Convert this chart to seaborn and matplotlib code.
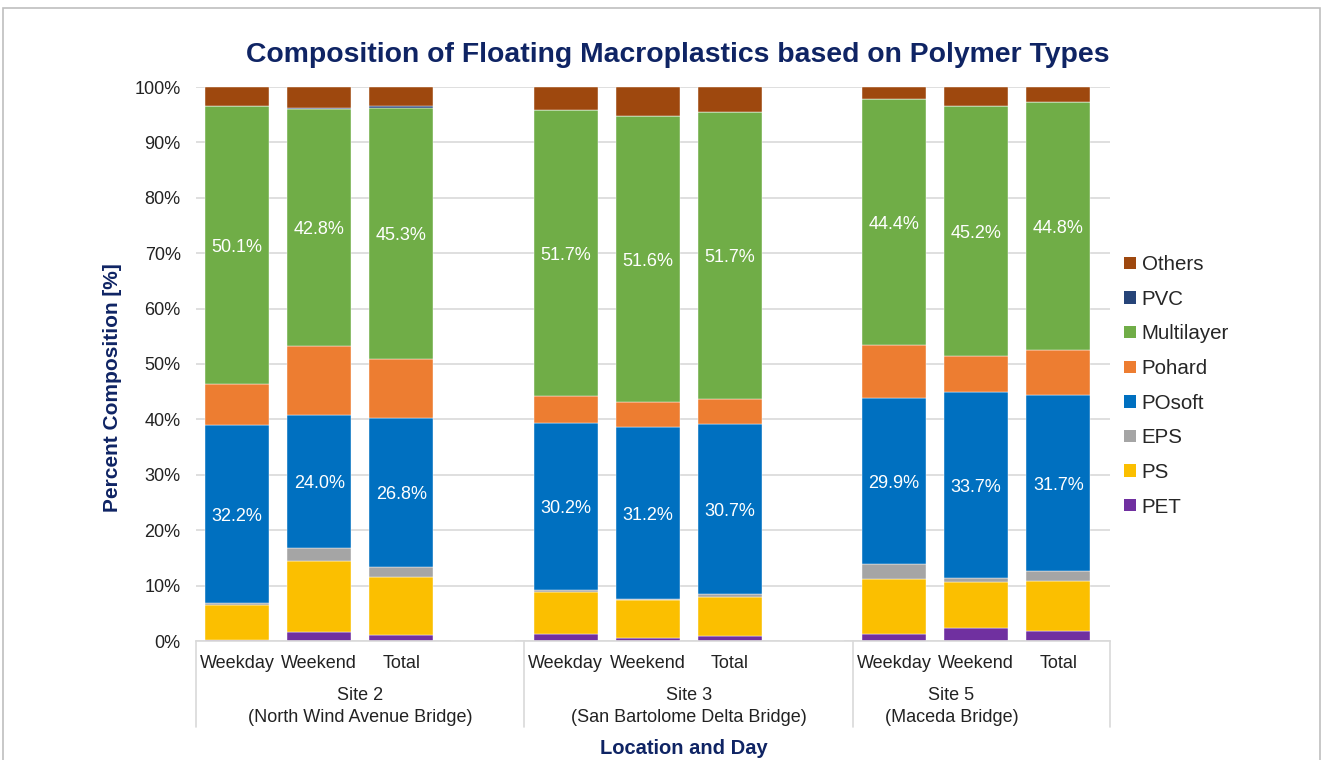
import numpy as np
import pandas as pd
import matplotlib
matplotlib.use("Agg")
import matplotlib.pyplot as plt
import seaborn as sns
from matplotlib.patches import Rectangle, Patch
import matplotlib.transforms as mtransforms

# ---------------- data ----------------
days = ["Weekday", "Weekend", "Total"]
sites = ["Site 2", "Site 3", "Site 5"]
site_names = ["(North Wind Avenue Bridge)", "(San Bartolome Delta Bridge)", "(Maceda Bridge)"]

# order of bars: Site2 Wd/We/T, Site3 Wd/We/T, Site5 Wd/We/T
PET        = [0.1, 1.6, 1.1, 1.3, 0.6, 0.9, 1.3, 2.3, 1.8]
PS         = [6.4, 12.8, 10.5, 7.5, 6.8, 7.1, 9.9, 8.3, 9.1]
EPS        = [0.3, 2.4, 1.8, 0.4, 0.1, 0.5, 2.7, 0.7, 1.8]
POsoft     = [32.2, 24.0, 26.8, 30.2, 31.2, 30.7, 29.9, 33.7, 31.7]
Pohard     = [7.4, 12.4, 10.7, 4.8, 4.4, 4.5, 9.6, 6.4, 8.1]
Multilayer = [50.1, 42.8, 45.3, 51.7, 51.6, 51.7, 44.4, 45.2, 44.8]
PVC        = [0.0, 0.2, 0.3, 0.0, 0.0, 0.0, 0.0, 0.0, 0.0]
Others     = [3.5, 3.8, 3.5, 4.1, 5.3, 4.6, 2.2, 3.4, 2.7]

polymers = ["Others", "PVC", "Multilayer", "Pohard", "POsoft", "EPS", "PS", "PET"]
values = {"Others": Others, "PVC": PVC, "Multilayer": Multilayer, "Pohard": Pohard,
          "POsoft": POsoft, "EPS": EPS, "PS": PS, "PET": PET}
colors = {"Others": "#9E480E", "PVC": "#264478", "Multilayer": "#70AD47",
          "Pohard": "#ED7D31", "POsoft": "#0070C0", "EPS": "#A5A5A5",
          "PS": "#FBBF00", "PET": "#7030A0"}

# slot positions (one empty slot between site groups)
positions = [0, 1, 2, 4, 5, 6, 8, 9, 10]

rows = []
for p in polymers:
    for pos, v in zip(positions, values[p]):
        rows.append({"pos": pos, "polymer": p, "value": v})
df = pd.DataFrame(rows)

# ---------------- style ----------------
sns.set_theme(style="white")
plt.rcParams["font.family"] = ["Liberation Sans", "DejaVu Sans"]
navy = "#0F2464"

fig = plt.figure(figsize=(13.27, 7.60), dpi=100)
W, H = 1327, 760
ax = fig.add_axes([196 / W, 1 - 641 / H, (1110 - 196) / W, (641 - 87) / H])

sns.histplot(data=df, x="pos", weights="value", hue="polymer", hue_order=polymers,
             multiple="stack", discrete=True, shrink=0.78, palette=colors,
             alpha=1, edgecolor="white", linewidth=0.3, legend=False, ax=ax)

ax.set_xlim(-0.5, 10.63)
ax.set_ylim(0, 100)
ax.set_yticks(np.arange(0, 101, 10))
ax.set_yticklabels([f"{t}%" for t in range(0, 101, 10)], fontsize=13, color="#222222")
ax.set_xticks(positions)
ax.set_xticklabels(days * 3, fontsize=13, color="#222222")
ax.tick_params(axis="both", length=0)
ax.tick_params(axis="x", pad=10)
ax.tick_params(axis="y", pad=11)
ax.yaxis.grid(True, color="#D9D9D9", linewidth=1.2)
ax.set_axisbelow(True)
for s in ["left", "right", "top"]:
    ax.spines[s].set_visible(False)
ax.spines["bottom"].set_color("#D9D9D9")
ax.spines["bottom"].set_linewidth(1.2)
ax.set_xlabel("")
ax.set_ylabel("")

# value labels in Multilayer and POsoft segments
cum = np.zeros(len(positions))
for p in polymers[::-1]:
    v = np.array(values[p])
    if p in ("Multilayer", "POsoft"):
        for x, b, h in zip(positions, cum, v):
            ax.text(x, b + h / 2 - 0.4, f"{h:.1f}%", ha="center", va="center",
                    color="white", fontsize=13)
    cum = cum + v

# category separators and group labels
trans = mtransforms.blended_transform_factory(ax.transData, ax.transAxes)
sep_bottom = -(727 - 641) / (641 - 87)
for xs in [-0.5, 3.5, 7.5, 10.63]:
    ax.plot([xs, xs], [0, sep_bottom], transform=trans, color="#D9D9D9",
            linewidth=1.2, clip_on=False)
site_x = [1.5, 5.5, 8.7]
for x, s, n in zip(site_x, sites, site_names):
    ax.text(x, -(695 - 641) / 554, s, transform=trans, ha="center", va="center",
            fontsize=13, color="#222222")
    ax.text(x, -(718 - 641) / 554, n, transform=trans, ha="center", va="center",
            fontsize=13, color="#222222")

# titles
fig.text(678 / W, 1 - 55 / H, "Composition of Floating Macroplastics based on Polymer Types",
         ha="center", va="center", fontsize=20.4, fontweight="bold", color=navy)
fig.text(113 / W, 1 - 388 / H, "Percent Composition [%]", rotation=90,
         ha="center", va="center", fontsize=15, fontweight="bold", color=navy)
fig.text(684 / W, 1 - 749 / H, "Location and Day", ha="center", va="center",
         fontsize=14.5, fontweight="bold", color=navy)

# legend
handles = [Patch(facecolor=colors[p], edgecolor="none", label=p) for p in polymers]
fig.legend(handles=handles, loc="upper left", bbox_to_anchor=(1116 / W, 1 - 247 / H),
           frameon=False, fontsize=14.8, handlelength=0.55, handleheight=0.55,
           handletextpad=0.3, labelspacing=0.76, borderaxespad=0)

# outer border
fig.patches.append(Rectangle((3 / W, -0.01), (1320 - 3) / W, 1.01 - 8 / H,
                             transform=fig.transFigure, fill=False,
                             edgecolor="#BFBFBF", linewidth=1.2))

fig.savefig("out.png", dpi=100, facecolor="white")
